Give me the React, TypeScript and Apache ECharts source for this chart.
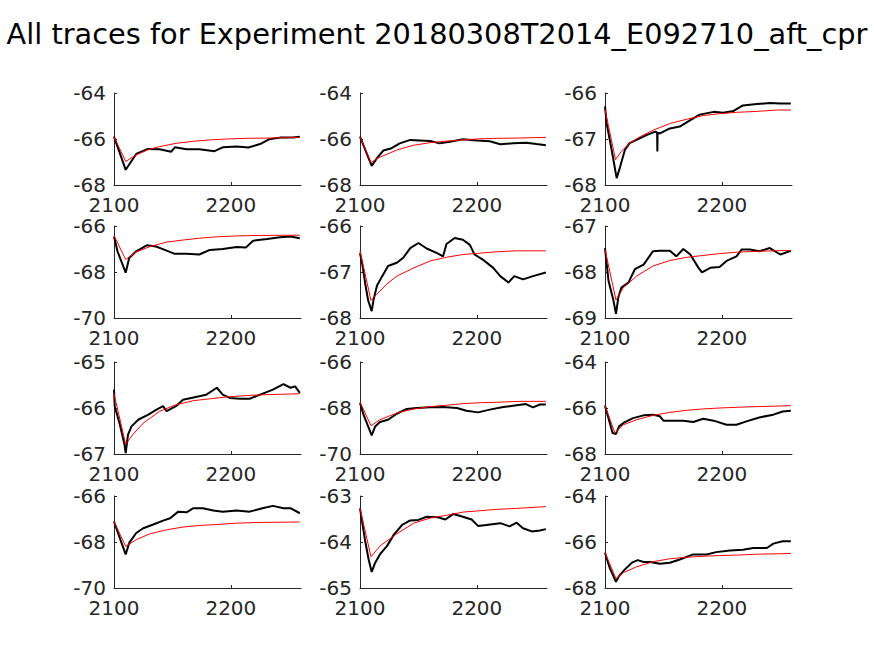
import React, { useEffect, useRef } from "react";
import * as echarts from "echarts";

const titleText = "All traces for Experiment 20180308T2014_E092710_aft_cpr";

const trace1 = [[2100,-65.9],[2110,-67.34],[2119,-66.65],[2129,-66.43],[2139,-66.45],[2149,-66.55],[2152,-66.36],[2162,-66.45],[2173,-66.45],[2186,-66.53],[2193,-66.36],[2205,-66.33],[2215,-66.37],[2225,-66.22],[2233,-66.01],[2242,-65.94],[2253,-65.93],[2259,-65.9]];
const fit1 = [[2100,-65.9],[2110,-66.98],[2119,-66.69],[2129,-66.47],[2139,-66.33],[2153,-66.19],[2168,-66.1],[2182,-66.04],[2196,-66.0],[2213,-65.97],[2230,-65.96],[2259,-65.93]];

const trace2 = [[2100,-65.9],[2110,-67.17],[2114.5,-66.83],[2120,-66.5],[2127,-66.4],[2134,-66.19],[2143,-66.04],[2151,-66.06],[2160,-66.09],[2168,-66.19],[2177,-66.12],[2188,-66.01],[2200,-66.07],[2211,-66.1],[2220,-66.23],[2231,-66.19],[2242,-66.16],[2251,-66.22],[2259,-66.27]];
const fit2 = [[2100,-65.9],[2109.4,-67.02],[2117,-66.79],[2132,-66.47],[2146,-66.27],[2160,-66.16],[2174,-66.09],[2188,-66.04],[2203,-65.99],[2217,-65.97],[2234,-65.96],[2259,-65.93]];

const trace3 = [[2100,-66.29],[2101.4,-66.66],[2105.7,-67.24],[2110,-67.85],[2113,-67.6],[2117,-67.24],[2121,-67.09],[2127,-67.02],[2136,-66.91],[2143,-66.84],[2144.6,-66.86],[2144.8,-67.27],[2145,-66.86],[2147,-66.88],[2155.5,-66.77],[2164,-66.73],[2173,-66.59],[2181,-66.47],[2193,-66.41],[2201,-66.43],[2210,-66.39],[2218,-66.27],[2230,-66.24],[2241,-66.22],[2250,-66.23],[2259,-66.23]];
const fit3 = [[2100,-66.36],[2109,-67.45],[2114,-67.27],[2121,-67.09],[2130,-66.95],[2141,-66.81],[2156,-66.66],[2170,-66.57],[2184,-66.49],[2198,-66.45],[2212.5,-66.42],[2230,-66.4],[2247,-66.37],[2259,-66.37]];

const trace4 = [[2100,-66.46],[2103,-67.1],[2110,-68.03],[2113,-67.39],[2119,-67.1],[2128,-66.84],[2136,-66.89],[2145,-67.07],[2152,-67.21],[2162,-67.21],[2173,-67.24],[2182,-67.04],[2193,-67.0],[2205,-66.91],[2213,-66.93],[2219,-66.64],[2231,-66.57],[2242,-66.49],[2251,-66.46],[2259,-66.53]];
const fit4 = [[2100,-66.41],[2110,-67.46],[2119,-67.13],[2131,-66.89],[2145,-66.7],[2159,-66.61],[2173,-66.53],[2188,-66.47],[2205,-66.43],[2225,-66.41],[2259,-66.4]];

const trace5 = [[2100,-66.59],[2102,-66.84],[2104.5,-67.26],[2107,-67.62],[2110,-67.85],[2111.7,-67.59],[2114.5,-67.3],[2119,-67.09],[2124,-66.87],[2131.5,-66.8],[2137,-66.69],[2143,-66.48],[2150,-66.37],[2157,-66.49],[2166,-66.59],[2171,-66.66],[2174,-66.39],[2181,-66.26],[2188,-66.3],[2194,-66.41],[2198,-66.62],[2205,-66.73],[2214,-66.91],[2220,-67.09],[2227,-67.23],[2232,-67.09],[2239.5,-67.16],[2248,-67.09],[2259,-67.01]];
const fit5 = [[2100,-66.54],[2109.4,-67.62],[2114.5,-67.48],[2123,-67.26],[2131.5,-67.09],[2146,-66.91],[2160,-66.76],[2174,-66.68],[2188,-66.62],[2203,-66.59],[2217,-66.56],[2234,-66.54],[2259,-66.54]];

const trace6 = [[2100,-67.48],[2103,-68.19],[2107,-68.59],[2109.4,-68.91],[2111.4,-68.55],[2114,-68.34],[2120,-68.23],[2125.6,-67.94],[2133,-67.84],[2141,-67.55],[2147,-67.54],[2155.5,-67.54],[2161,-67.66],[2167,-67.5],[2173,-67.62],[2180,-67.91],[2183,-68.01],[2190,-67.91],[2198,-67.89],[2204,-67.76],[2212.5,-67.66],[2217,-67.51],[2224,-67.51],[2232,-67.55],[2241,-67.48],[2250,-67.62],[2259,-67.54]];
const fit6 = [[2100,-67.51],[2109.4,-68.61],[2115.7,-68.34],[2127,-68.09],[2141,-67.87],[2155.5,-67.75],[2170,-67.68],[2184,-67.64],[2198,-67.6],[2212.5,-67.57],[2230,-67.55],[2259,-67.53]];

const trace7 = [[2100,-65.6],[2100.6,-65.96],[2105,-66.36],[2109,-66.8],[2110,-66.98],[2112,-66.58],[2115,-66.4],[2121,-66.25],[2129,-66.15],[2136,-66.04],[2142,-65.96],[2145,-66.07],[2153,-65.96],[2159,-65.82],[2168,-65.77],[2179,-65.71],[2188,-65.56],[2193,-65.71],[2199,-65.78],[2208,-65.8],[2216,-65.8],[2225,-65.71],[2236,-65.6],[2245,-65.48],[2251,-65.56],[2255,-65.53],[2259,-65.67]];
const fit7 = [[2100,-65.69],[2110,-66.79],[2116,-66.58],[2125,-66.33],[2139,-66.07],[2153,-65.93],[2168,-65.84],[2182,-65.8],[2196,-65.76],[2213,-65.73],[2230,-65.71],[2259,-65.69]];

const trace8 = [[2100,-67.78],[2103,-68.29],[2110,-69.19],[2113,-68.8],[2117,-68.61],[2124,-68.51],[2131.5,-68.25],[2140,-68.04],[2148.6,-68.0],[2160,-67.97],[2171,-67.96],[2183,-68.0],[2191,-68.12],[2201,-68.19],[2211,-68.07],[2222.5,-67.96],[2234,-67.88],[2242,-67.83],[2248,-67.97],[2254,-67.85],[2259,-67.85]];
const fit8 = [[2100,-67.74],[2109.4,-68.77],[2117,-68.51],[2131.5,-68.22],[2146,-68.04],[2160,-67.94],[2174,-67.88],[2188,-67.81],[2203,-67.77],[2217,-67.75],[2237,-67.71],[2259,-67.71]];

const trace9 = [[2100,-65.9],[2103,-66.44],[2106.5,-67.09],[2109.4,-67.13],[2112,-66.8],[2117,-66.61],[2124,-66.44],[2133,-66.32],[2141,-66.29],[2147,-66.36],[2150,-66.55],[2158,-66.55],[2167,-66.55],[2175.5,-66.61],[2184,-66.47],[2193,-66.55],[2204,-66.73],[2212.5,-66.73],[2221,-66.58],[2232,-66.41],[2244,-66.29],[2252,-66.15],[2259,-66.12]];
const fit9 = [[2100,-65.9],[2108.5,-67.09],[2115.7,-66.73],[2127,-66.51],[2141,-66.32],[2155.5,-66.19],[2170,-66.1],[2184,-66.04],[2198,-66.0],[2212.5,-65.97],[2230,-65.94],[2259,-65.9]];

const trace10 = [[2100,-67.11],[2105,-67.83],[2110,-68.54],[2113,-68.04],[2119,-67.61],[2125,-67.4],[2133,-67.25],[2142,-67.07],[2148,-66.97],[2155,-66.68],[2162,-66.71],[2168,-66.53],[2176,-66.53],[2185,-66.63],[2193,-66.68],[2205,-66.63],[2216,-66.68],[2227,-66.53],[2236,-66.43],[2245,-66.53],[2251,-66.53],[2259,-66.75]];
const fit10 = [[2100,-67.11],[2110,-68.19],[2119,-67.9],[2131,-67.64],[2145,-67.47],[2159,-67.35],[2173,-67.28],[2188,-67.24],[2205,-67.18],[2225,-67.15],[2259,-67.13]];

const trace11 = [[2100,-63.27],[2102,-63.59],[2104.5,-63.99],[2107.4,-64.38],[2110,-64.65],[2113,-64.45],[2117,-64.27],[2123,-64.09],[2129,-63.84],[2136,-63.63],[2143,-63.53],[2150,-63.52],[2157,-63.45],[2166,-63.46],[2173,-63.51],[2180,-63.39],[2188,-63.45],[2195.5,-63.51],[2201,-63.65],[2208,-63.63],[2220,-63.59],[2228,-63.66],[2234,-63.58],[2239.5,-63.7],[2247,-63.77],[2254,-63.75],[2259,-63.72]];
const fit11 = [[2100,-63.27],[2109.4,-64.32],[2117,-64.09],[2131.5,-63.82],[2146,-63.59],[2160,-63.48],[2174,-63.42],[2188,-63.35],[2203,-63.32],[2217,-63.29],[2234,-63.27],[2259,-63.23]];

const trace12 = [[2100,-66.47],[2104,-67.12],[2109.4,-67.73],[2112,-67.48],[2117,-67.19],[2123,-66.9],[2128,-66.79],[2133,-66.87],[2138.5,-66.87],[2147,-66.95],[2155.5,-66.9],[2164,-66.76],[2175.5,-66.54],[2187,-66.54],[2195,-66.44],[2207,-66.37],[2218,-66.34],[2227,-66.26],[2238.5,-66.26],[2244,-66.07],[2252,-65.97],[2259,-65.97]];
const fit12 = [[2100,-66.47],[2109.4,-67.59],[2115.7,-67.33],[2127,-67.08],[2141,-66.86],[2155.5,-66.73],[2170,-66.66],[2184,-66.62],[2198,-66.59],[2212.5,-66.57],[2230,-66.53],[2259,-66.5]];

const traces = [trace1, trace2, trace3, trace4, trace5, trace6, trace7, trace8, trace9, trace10, trace11, trace12];
const fits = [fit1, fit2, fit3, fit4, fit5, fit6, fit7, fit8, fit9, fit10, fit11, fit12];
const yMins = [-68, -68, -68, -70, -68, -69, -67, -70, -68, -70, -65, -68];
const yMaxs = [-64, -64, -66, -66, -66, -67, -65, -66, -64, -66, -63, -64];
const yIntervals = [2, 2, 1, 2, 1, 1, 1, 2, 2, 2, 1, 2];
const xMin = 2100;
const xMax = 2260;
const xInterval = 100;

const colLefts = [114, 360, 605];
const rowTops = [93, 226, 362, 496];
const gridW = 187;
const gridH = 92;

const FONT = "DejaVu Sans";
const AX = "#262626";

export default function App() {
  const ref = useRef<HTMLDivElement>(null);
  useEffect(() => {
    if (!ref.current) return;
    const chart = echarts.init(ref.current, undefined, { renderer: "svg" });
    const grid: any[] = [];
    const xAxis: any[] = [];
    const yAxis: any[] = [];
    const series: any[] = [];
    for (let i = 0; i < 12; i++) {
      const r = Math.floor(i / 3);
      const c = i % 3;
      grid.push({ left: colLefts[c], top: rowTops[r], width: gridW, height: gridH, containLabel: false });
      xAxis.push({
        type: "value", gridIndex: i, min: xMin, max: xMax, interval: xInterval,
        axisLine: { onZero: false, lineStyle: { color: AX, width: 1 } },
        axisTick: { inside: true, length: 3, lineStyle: { color: AX } },
        splitLine: { show: false },
        axisLabel: {
          color: AX, fontFamily: FONT, fontSize: 20, margin: 10, showMaxLabel: false,
          formatter: (v: number) => String(v),
        },
      });
      yAxis.push({
        type: "value", gridIndex: i, min: yMins[i], max: yMaxs[i], interval: yIntervals[i],
        axisLine: { show: true, onZero: false, lineStyle: { color: AX, width: 1 } },
        axisTick: { show: true, inside: true, length: 3, lineStyle: { color: AX } },
        splitLine: { show: false },
        axisLabel: { color: AX, fontFamily: FONT, fontSize: 20, margin: 8, formatter: (v: number) => String(v) },
      });
      series.push({
        type: "line", xAxisIndex: i, yAxisIndex: i, data: traces[i], showSymbol: false,
        lineStyle: { color: "#000000", width: 2 }, z: 2,
      });
      series.push({
        type: "line", xAxisIndex: i, yAxisIndex: i, data: fits[i], showSymbol: false,
        lineStyle: { color: "#ff0000", width: 1 }, z: 3,
      });
    }
    chart.setOption({
      animation: false,
      backgroundColor: "#ffffff",
      title: {
        text: titleText, left: "center", top: 14,
        textStyle: { fontFamily: FONT, fontSize: 28.8, fontWeight: "normal", color: "#000000" },
      },
      grid, xAxis, yAxis, series,
    });
    return () => chart.dispose();
  }, []);
  return <div ref={ref} style={{ position: "absolute", left: 0, top: 0, width: 874, height: 656 }} />;
}
